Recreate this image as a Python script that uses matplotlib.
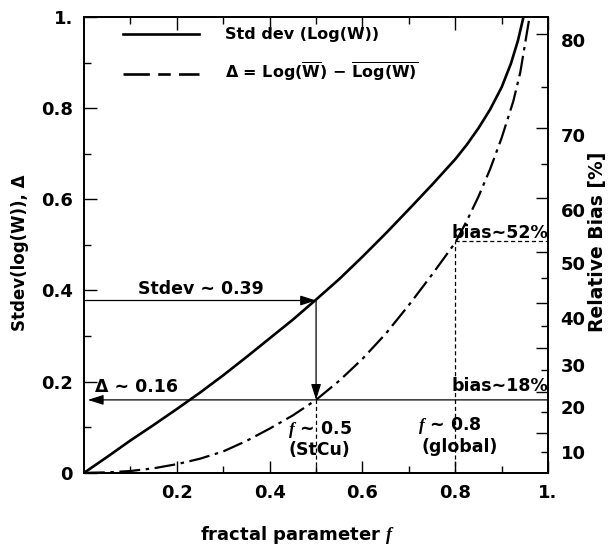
import matplotlib
matplotlib.use("Agg")
import matplotlib.pyplot as plt
from matplotlib.lines import Line2D
import numpy as np

plt.rcParams['font.family'] = ['DejaVu Sans']
plt.rcParams['font.weight'] = 'bold'
plt.rcParams['axes.labelweight'] = 'bold'
plt.rcParams['mathtext.fontset'] = 'custom'
plt.rcParams['mathtext.rm'] = 'DejaVu Sans:bold'
plt.rcParams['mathtext.bf'] = 'DejaVu Sans:bold'
plt.rcParams['mathtext.it'] = 'Liberation Serif:italic:bold'
plt.rcParams['lines.scale_dashes'] = False

# ---------------- data ----------------
f_std = [0.0, 0.05, 0.10, 0.15, 0.20, 0.25, 0.30, 0.35, 0.40, 0.45, 0.50,
         0.55, 0.60, 0.65, 0.70, 0.75, 0.80, 0.825, 0.85, 0.875, 0.90,
         0.92, 0.935, 0.947]
stdev = [0.0, 0.035, 0.071, 0.105, 0.140, 0.176, 0.214, 0.254, 0.295, 0.336, 0.380,
         0.425, 0.474, 0.525, 0.578, 0.632, 0.688, 0.720, 0.756, 0.797, 0.846,
         0.898, 0.948, 1.0]

f_delta = [0.0, 0.05, 0.10, 0.15, 0.20, 0.25, 0.30, 0.35, 0.40, 0.45, 0.50,
           0.55, 0.60, 0.65, 0.70, 0.75, 0.80, 0.825, 0.85, 0.875, 0.90,
           0.925, 0.94, 0.96]
delta = [0.0, 0.001, 0.004, 0.010, 0.019, 0.031, 0.047, 0.070, 0.097, 0.126, 0.160,
         0.202, 0.250, 0.305, 0.368, 0.435, 0.505, 0.553, 0.606, 0.666, 0.735,
         0.815, 0.878, 1.0]

# annotation values
f_stcu = 0.5
stdev_stcu = 0.378
delta_stcu = 0.160
f_global = 0.8
delta_global = 0.508

# axes ticks
x_major = [0.2, 0.4, 0.6, 0.8, 1.0]
x_major_labels = ['0.2', '0.4', '0.6', '0.8', '1.']
x_minor = [0.1, 0.3, 0.5, 0.7, 0.9]
y_major = [0.0, 0.2, 0.4, 0.6, 0.8, 1.0]
y_major_labels = ['0', '0.2', '0.4', '0.6', '0.8', '1.']
y_minor = [0.1, 0.3, 0.5, 0.7, 0.9]

# right axis (Relative Bias [%]) positions in Delta units
bias_long_ticks = [0.963, 0.756, 0.603, 0.484, 0.372, 0.274, 0.177, 0.087]
bias_short_ticks = [0.846, 0.677, 0.427, 0.322, 0.225, 0.133, 0.046]
bias_label_pos = [0.949, 0.741, 0.576, 0.460, 0.340, 0.237, 0.144, 0.046]
bias_labels = ['80', '70', '60', '50', '40', '30', '20', '10']

# ---------------- figure ----------------
fig = plt.figure(figsize=(6.09, 5.46), dpi=100)
ax = fig.add_axes([0.138, 0.134, 0.762, 0.835])
ax.set_xlim(0, 1)
ax.set_ylim(0, 1)

ax.plot(f_std, stdev, color='black', lw=1.9, solid_capstyle='butt')
ax.plot(f_delta, delta, color='black', lw=1.6, linestyle=(0, (15, 4, 2.5, 4)))

arrow = dict(arrowstyle='-|>,head_length=0.95,head_width=0.3', lw=0.9,
             color='black', shrinkA=0, shrinkB=0)
# Stdev arrow to the curve
ax.annotate('', xy=(f_stcu, stdev_stcu), xytext=(0.0, stdev_stcu), arrowprops=arrow)
# down to Delta curve
ax.annotate('', xy=(f_stcu, delta_stcu), xytext=(f_stcu, stdev_stcu), arrowprops=arrow)
# horizontal line at Delta towards the left axis
ax.annotate('', xy=(0.008, delta_stcu), xytext=(1.0, delta_stcu), arrowprops=arrow)
# dotted guides
ax.plot([f_stcu, f_stcu], [0, delta_stcu], color='black', lw=0.9, linestyle=(0, (3, 2)))
ax.plot([f_global, f_global], [0, delta_global], color='black', lw=0.9, linestyle=(0, (3, 2)))
ax.plot([f_global, 1.0], [delta_global, delta_global], color='black', lw=0.9,
        linestyle=(0, (3, 2)))

fs_ann = 12.5
ax.text(0.252, 0.403, 'Stdev ~ 0.39', ha='center', va='center', fontsize=fs_ann)
ax.text(0.024, 0.188, '\u0394 ~ 0.16', ha='left', va='center', fontsize=fs_ann)
ax.text(1.0, 0.526, 'bias~52%', ha='right', va='center', fontsize=fs_ann)
ax.text(1.0, 0.190, 'bias~18%', ha='right', va='center', fontsize=fs_ann)
ax.text(0.508, 0.094, r'$f$ ~ 0.5', ha='center', va='center', fontsize=fs_ann)
ax.text(0.508, 0.049, '(StCu)', ha='center', va='center', fontsize=fs_ann)
ax.text(0.789, 0.104, r'$f$ ~ 0.8', ha='center', va='center', fontsize=fs_ann)
ax.text(0.810, 0.056, '(global)', ha='center', va='center', fontsize=fs_ann)

# legend
h1 = Line2D([], [], color='black', lw=1.9)
h2 = Line2D([], [], color='black', lw=1.9, linestyle=(0, (19, 6, 9, 6)))
lab2 = (r'$\Delta$ = Log($\overline{\mathrm{W}}$) $-$ '
        r'$\overline{\mathrm{Log(W)}}$')
leg = ax.legend([h1, h2], ['Std dev (Log(W))', lab2], loc='upper left',
                bbox_to_anchor=(0.052, 1.009), frameon=False, fontsize=11.5,
                handlelength=4.8, handletextpad=1.6, labelspacing=1.2)

# ticks main axes
ax.set_xticks(x_major, x_major_labels)
ax.set_xticks(x_minor, minor=True)
ax.set_yticks(y_major, y_major_labels)
ax.set_yticks(y_minor, minor=True)
ax.tick_params(axis='both', which='both', direction='in', top=True, width=1.0)
ax.tick_params(axis='both', which='major', length=9, labelsize=13)
ax.tick_params(axis='both', which='minor', length=5)
ax.tick_params(axis='x', which='major', pad=8)
ax.tick_params(axis='y', which='major', pad=8)
for sp in ax.spines.values():
    sp.set_linewidth(1.3)

ax.set_xlabel('fractal parameter $f$', fontsize=13)
ax.xaxis.set_label_coords(0.461, -0.137)
ax.xaxis.label.set_verticalalignment('center')
ax.set_ylabel('Stdev(log(W)), \u0394', fontsize=12)
ax.yaxis.set_label_coords(-0.138, 0.482)
ax.yaxis.label.set_verticalalignment('center')

# right axis: tick marks
ax2 = ax.twinx()
ax2.set_ylim(0, 1)
ax2.set_yticks(bias_long_ticks)
ax2.set_yticklabels([])
ax2.set_yticks(bias_short_ticks, minor=True)
ax2.tick_params(axis='y', which='both', direction='in', width=1.0)
ax2.tick_params(axis='y', which='major', length=9)
ax2.tick_params(axis='y', which='minor', length=5)
for sp in ax2.spines.values():
    sp.set_linewidth(1.3)
ax2.set_ylabel('Relative Bias [%]', fontsize=13.5)
ax2.yaxis.set_label_coords(1.106, 0.506)
ax2.yaxis.label.set_verticalalignment('center')

# right axis: labels
ax3 = ax.twinx()
ax3.set_ylim(0, 1)
ax3.set_yticks(bias_label_pos, bias_labels)
ax3.tick_params(axis='y', which='major', length=0, pad=9, labelsize=13)
for sp in ax3.spines.values():
    sp.set_visible(False)

fig.savefig('out.png', dpi=100)
